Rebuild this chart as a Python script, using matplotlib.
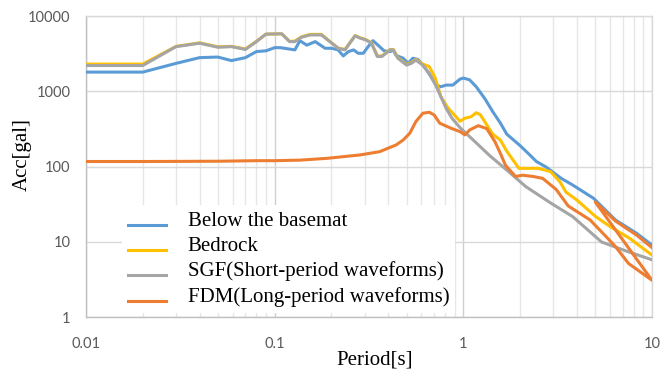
import numpy as np
import matplotlib
matplotlib.use("Agg")
import matplotlib.pyplot as plt
from matplotlib.ticker import FixedLocator, FixedFormatter, NullFormatter
from matplotlib.legend_handler import HandlerLine2D

# response spectra
t_base = [0.01, 0.02, 0.03, 0.04, 0.05, 0.059, 0.07, 0.08, 0.09, 0.1, 0.107, 0.128, 0.136,
          0.148, 0.164, 0.185, 0.2, 0.217, 0.231, 0.246, 0.262, 0.277, 0.295, 0.313, 0.332,
          0.36, 0.38, 0.41, 0.425, 0.44, 0.48, 0.51, 0.54, 0.575, 0.61, 0.65, 0.69, 0.72,
          0.76, 0.81, 0.88, 0.92, 0.96, 1.0, 1.08, 1.17, 1.3, 1.43, 1.57, 1.7, 2.0, 2.25,
          2.44, 2.76, 3.3, 3.8, 4.9, 6.4, 8.3, 10]
a_base = [1800, 1800, 2350, 2800, 2850, 2560, 2800, 3370, 3450, 3800, 3800, 3550, 4700,
          4100, 4570, 3730, 3730, 3550, 2950, 3370, 3550, 3200, 3200, 3920, 4700,
          3920, 3450, 3370, 3550, 3000, 2750, 2350, 2750, 2650, 2230, 1800, 1420, 1210,
          1150, 1210, 1210, 1330, 1450, 1500, 1420, 1150, 800, 540, 380, 270, 190, 143,
          117, 98, 70, 57, 38, 19.6, 13, 9.1]

t_bed = [0.01, 0.02, 0.03, 0.04, 0.05, 0.059, 0.07, 0.08, 0.09, 0.109, 0.12, 0.128, 0.139,
         0.154, 0.177, 0.196, 0.217, 0.236, 0.25, 0.267, 0.283, 0.305, 0.326, 0.35, 0.37,
         0.41, 0.425, 0.45, 0.5, 0.53, 0.56, 0.61, 0.66, 0.71, 0.76, 0.83, 0.9, 0.96, 1.02,
         1.1, 1.17, 1.23, 1.33, 1.43, 1.57, 1.7, 1.97, 2.15, 2.5, 2.9, 3.25, 3.5, 4.0, 5.0,
         6.0, 7.6, 10]
a_bed = [2300, 2300, 3950, 4400, 3900, 3950, 3650, 4600, 5750, 5800, 4600, 4650, 5300,
         5700, 5700, 4600, 3750, 3600, 4400, 5500, 5150, 4850, 4400, 2950, 2950,
         3600, 3600, 2800, 2280, 2400, 2650, 2300, 2130, 1500, 850, 600, 480, 400, 440,
         460, 520, 490, 360, 270, 226, 160, 95, 95, 95, 86, 63, 46, 36, 22,
         16, 11.2, 6.7]

t_sgf = [0.01, 0.02, 0.03, 0.04, 0.05, 0.059, 0.07, 0.08, 0.09, 0.109, 0.12, 0.128, 0.139,
         0.154, 0.177, 0.196, 0.217, 0.236, 0.25, 0.267, 0.283, 0.305, 0.326, 0.35, 0.37,
         0.41, 0.425, 0.45, 0.5, 0.53, 0.56, 0.61, 0.66, 0.72, 0.76, 0.81, 0.87, 0.96, 1.08,
         1.23, 1.38, 1.7, 2.15, 2.9, 3.8, 5.4, 7.5, 10]
a_sgf = [2200, 2200, 3920, 4350, 3850, 3920, 3600, 4570, 5750, 5800, 4570, 4570, 5230,
         5600, 5600, 4570, 3730, 3550, 4350, 5450, 5100, 4800, 4350, 2900, 2900,
         3550, 3550, 2750, 2230, 2350, 2600, 2230, 1730, 1150, 850, 597, 440, 330, 250,
         184, 140, 90, 54, 33, 21.7, 10, 7.4, 5.8]

t_fdm = [0.01, 0.02, 0.05, 0.08, 0.1, 0.136, 0.19, 0.283, 0.36, 0.44, 0.48, 0.52, 0.56,
         0.61, 0.66, 0.7, 0.75, 0.87, 0.96, 1.02, 1.08, 1.2, 1.33, 1.47, 1.57, 1.67, 1.89,
         2.06, 2.35, 2.63, 3.1, 3.6, 4.7, 5.6, 6.4, 7.5, 10, 5.0, 6.4, 8.3, 10]
a_fdm = [117, 117, 118, 120, 120, 122, 129, 143, 158, 194, 226, 277, 396,
         512, 527, 486, 377, 320, 292, 264, 307, 350, 320, 215, 151, 105, 74,
         77, 74, 70, 50, 30, 19.6, 12.4, 8.7, 5.2, 3.1, 34, 19, 12.3, 8.4]

labels = ["Below the basemat", "Bedrock", "SGF(Short-period waveforms)",
          "FDM(Long-period waveforms)"]
colors = ["#5B9BD5", "#FFC000", "#A5A5A5", "#ED7D31"]


class LowLine(HandlerLine2D):
    # excel draws the legend keys a bit below the text centre
    def create_artists(self, legend, orig_handle, xdescent, ydescent, width, height,
                       fontsize, trans):
        return super().create_artists(legend, orig_handle, xdescent,
                                      ydescent + 0.6 * fontsize, width, height,
                                      fontsize, trans)


fig = plt.figure(figsize=(6.6, 3.73), dpi=100)
ax = fig.add_axes([86 / 660, 1 - 317.3 / 373, 566 / 660, 301.3 / 373])

series = [(t_base, a_base), (t_bed, a_bed), (t_sgf, a_sgf), (t_fdm, a_fdm)]
for (t, a), lab, c in zip(series, labels, colors):
    ax.plot(t, a, color=c, lw=2.2, label=lab, solid_joinstyle="round", zorder=3)

ax.set_xscale("log")
ax.set_yscale("log")
ax.set_xlim(0.01, 10)
ax.set_ylim(1, 10000)

ax.xaxis.set_major_locator(FixedLocator([0.01, 0.1, 1, 10]))
ax.xaxis.set_major_formatter(FixedFormatter(["0.01", "0.1", "1", "10"]))
ax.xaxis.set_minor_formatter(NullFormatter())
ax.yaxis.set_major_locator(FixedLocator([1, 10, 100, 1000, 10000]))
ax.yaxis.set_major_formatter(FixedFormatter(["1", "10", "100", "1000", "10000"]))
ax.yaxis.set_minor_locator(FixedLocator([]))

ax.grid(which="major", axis="x", color="#D0D0D0", lw=1.0, zorder=0)
ax.grid(which="minor", axis="x", color="#E6E6E6", lw=1.0, zorder=0)
ax.grid(which="major", axis="y", color="#D9D9D9", lw=1.0, zorder=0)
ax.set_axisbelow(True)

for s in ["top", "right"]:
    ax.spines[s].set_color("#D9D9D9")
for s in ["left", "bottom"]:
    ax.spines[s].set_color("#BFBFBF")
for s in ax.spines.values():
    s.set_linewidth(1.0)

ax.tick_params(which="both", length=0)
ax.tick_params(axis="x", pad=14)
ax.tick_params(axis="y", pad=11)
for lb in ax.get_xticklabels() + ax.get_yticklabels():
    lb.set_fontfamily("Lato")
    lb.set_fontsize(10.5)
    lb.set_color("#595959")

serif = ["Liberation Serif", "DejaVu Serif"]
leg = ax.legend(loc="upper left", bbox_to_anchor=(0.0636, 0.372), frameon=True,
                facecolor="white", edgecolor="none", framealpha=1, fancybox=False,
                prop={"family": serif, "size": 15}, handlelength=1.8,
                handletextpad=1.05, labelspacing=0.26, borderpad=0.3, borderaxespad=0,
                handler_map={matplotlib.lines.Line2D: LowLine()})
leg.set_zorder(4)

fig.text(375 / 660, 1 - 360 / 373, "Period[s]", family=serif, fontsize=15,
         ha="center", va="center")
fig.text(22.5 / 660, 1 - 155 / 373, "Acc[gal]", family=serif, fontsize=15,
         ha="center", va="center", rotation=90)

fig.savefig("out.png", dpi=100)
